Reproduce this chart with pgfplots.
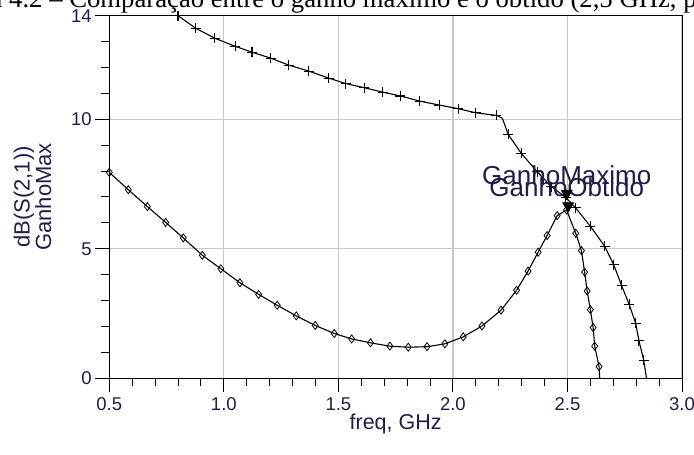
\documentclass[border=0pt]{standalone}
\usepackage{fontspec}
\setmainfont{Liberation Sans}
\newfontfamily\capfont{Liberation Serif}
\usepackage{pgfplots}
\pgfplotsset{compat=1.18}
\definecolor{lbl}{RGB}{30,30,70}
\definecolor{gridc}{RGB}{200,200,200}

\begin{document}
\begin{tikzpicture}
% cropped figure caption above the chart
\node[anchor=base west, inner sep=0pt, font=\capfont\fontsize{26.7}{30}\selectfont]
  at (9pt,447pt) {\llap{Figura }4.2 – Comparação entre o ganho máximo e o obtido (2,5 GHz, polarização)};
\begin{axis}[
  at={(109.3pt,76.7pt)}, anchor=south west,
  scale only axis, width=572.7pt, height=362.6pt,
  xmin=0.5, xmax=3.0, ymin=0, ymax=14,
  xtick={0.5,1.0,1.5,2.0,2.5,3.0},
  minor x tick num=4,
  ytick={0,5,10,14},
  minor ytick={1,2,3,4,6,7,8,9,11,12,13},
  xtick pos=bottom, ytick pos=left,
  tick align=outside,
  major tick length=14pt, minor tick length=8pt,
  every tick/.style={black, line width=1pt},
  axis line style={black, line width=1pt},
  grid=major,
  major grid style={gridc, line width=1.3pt},
  /pgf/number format/assume math mode=true,
  ticklabel style={font=\fontsize{18.5}{21}\selectfont, text=lbl},
  xticklabel style={/pgf/number format/fixed, /pgf/number format/fixed zerofill,
    /pgf/number format/precision=1, yshift=-1.5pt},
  xlabel={freq, GHz},
  xlabel style={at={(axis description cs:0.5,-0.125)}, anchor=center,
    font=\fontsize{21.5}{23}\selectfont, text=lbl},
  ylabel={dB(S(2,1))\\GanhoMax},
  ylabel style={at={(axis description cs:-0.134,0.5)}, anchor=center,
    align=center, font=\fontsize{22}{20}\selectfont, text=lbl},
]
% GanhoMax
\addplot[black, line width=1.1pt, mark=+, mark size=5pt,
  mark indices={1,...,18,20,21,22,23,24,25,26,27,28,29,30,31,32,33}]
  coordinates {
  (0.800,14.00) (0.878,13.51) (0.961,13.13) (1.049,12.82) (1.123,12.59)
  (1.205,12.36) (1.284,12.09) (1.371,11.86) (1.458,11.59) (1.532,11.38)
  (1.613,11.22) (1.693,11.05) (1.771,10.90) (1.856,10.70) (1.940,10.55)
  (2.023,10.41) (2.100,10.25) (2.190,10.15) (2.216,10.04) (2.241,9.42)
  (2.299,8.68) (2.368,7.97) (2.430,7.40) (2.493,6.98) (2.536,6.58)
  (2.600,5.87) (2.663,5.09) (2.702,4.38) (2.736,3.59) (2.769,2.86)
  (2.798,2.12) (2.812,1.45) (2.833,0.70) (2.845,0.00)
  };
% GanhoObtido
\addplot[black, line width=1.1pt, mark=diamond, mark size=4pt,
  mark options={line width=0.8pt, fill=white}, mark indices={1,...,36}]
  coordinates {
  (0.500,7.95) (0.583,7.28) (0.666,6.63) (0.746,6.02) (0.823,5.42)
  (0.906,4.75) (0.987,4.23) (1.070,3.69) (1.152,3.24) (1.233,2.82)
  (1.316,2.41) (1.399,2.04) (1.482,1.73) (1.558,1.52) (1.640,1.37)
  (1.725,1.24) (1.805,1.20) (1.887,1.22) (1.965,1.33) (2.045,1.60)
  (2.127,2.02) (2.210,2.63) (2.278,3.40) (2.328,4.14) (2.372,4.87)
  (2.411,5.51) (2.455,6.28) (2.496,6.50) (2.536,5.60) (2.561,4.93)
  (2.575,4.10) (2.586,3.37) (2.600,2.65) (2.612,1.96) (2.619,1.24)
  (2.638,0.45) (2.641,0.00)
  };
% markers
\addplot[only marks, mark=triangle*, mark size=6.5pt,
  mark options={rotate=180, fill=black, draw=black}]
  coordinates {(2.497,7.14) (2.503,6.66)};
\node[font=\fontsize{26}{26}\selectfont, text=lbl] at (axis cs:2.497,7.85) {GanhoMaximo};
\node[font=\fontsize{26}{26}\selectfont, text=lbl] at (axis cs:2.497,7.39) {GanhoObtido};
\end{axis}
\pgfresetboundingbox
\useasboundingbox (0pt,0pt) rectangle (694pt,455pt);
\end{tikzpicture}
\end{document}
